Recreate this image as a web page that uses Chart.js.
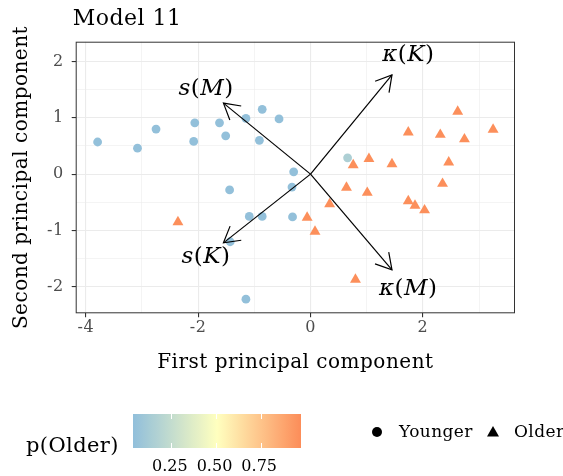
<!DOCTYPE html>
<html>
<head>
<meta charset="utf-8">
<script src="https://cdn.jsdelivr.net/npm/chart.js@4.4.1/dist/chart.umd.min.js"></script>
<style>
  html, body { margin: 0; padding: 0; background: #fff; }
  #wrap { position: relative; width: 563px; height: 476px; font-family: "DejaVu Serif", serif; }
  canvas { position: absolute; left: 0; top: 0; }
  .lg { position: absolute; color: #000; white-space: nowrap; line-height: 1; letter-spacing: 0.4px; }
  #cbar { position: absolute; left: 132.5px; top: 414px; width: 168px; height: 34px; }
  .tk { position: absolute; width: 1px; height: 5px; background: #fff; }
  svg { position: absolute; }
</style>
</head>
<body>
<div id="wrap">
  <canvas id="c" width="563" height="476"></canvas>
  <div class="lg" style="left:26px; top:435px; font-size:21px;">p(Older)</div>
  <div id="cbar"></div>
  <svg style="left:372px; top:427px;" width="10" height="10"><circle cx="5" cy="5" r="5" fill="#000"/></svg>
  <div class="lg" style="left:399px; top:423px; font-size:17px;">Younger</div>
  <svg style="left:487px; top:426px;" width="12" height="11"><polygon points="6,0 12,10.4 0,10.4" fill="#000"/></svg>
  <div class="lg" style="left:514px; top:423px; font-size:17px;">Older</div>
</div>
<script>
// Scores on the first two principal components
const youngerPC1 = [-3.79, -3.08, -2.75, -2.06, -2.08, -1.62, -1.51, -1.15, -0.86, -0.56, -0.91, -0.30, -0.33, -1.44, -1.09, -0.86, -0.32, -1.43, -1.15, 0.66];
const youngerPC2 = [0.57, 0.46, 0.80, 0.91, 0.58, 0.91, 0.68, 0.99, 1.15, 0.98, 0.60, 0.04, -0.23, -0.28, -0.75, -0.75, -0.76, -1.20, -2.22, 0.29];
const youngerP   = [0.04, 0.04, 0.04, 0.04, 0.04, 0.04, 0.04, 0.04, 0.04, 0.04, 0.04, 0.04, 0.04, 0.04, 0.04, 0.04, 0.04, 0.04, 0.04, 0.15];

const olderPC1 = [-2.36, -0.06, 0.08, 2.62, 1.74, 2.31, 2.74, 3.25, 1.04, 0.76, 1.45, 2.46, 2.35, 0.64, 1.01, 0.34, 1.74, 1.86, 2.03, 0.80];
const olderPC2 = [-0.85, -0.77, -1.02, 1.11, 0.74, 0.70, 0.62, 0.79, 0.27, 0.16, 0.18, 0.21, -0.17, -0.24, -0.33, -0.53, -0.48, -0.56, -0.64, -1.87];
const olderP   = [0.96, 0.96, 0.96, 0.96, 0.96, 0.96, 0.96, 0.96, 0.96, 0.96, 0.96, 0.96, 0.96, 0.96, 0.96, 0.96, 0.96, 0.96, 0.96, 0.96];

// Variable loadings (arrows from the origin)
const loadingSymbol = ['κ', 'κ', 's', 's'];
const loadingParam  = ['K', 'M', 'M', 'K'];
const loadingPC1 = [1.45, 1.45, -1.55, -1.55];
const loadingPC2 = [1.76, -1.70, 1.26, -1.22];
const labelScale = 1.2;

// Colour scale for p(Older)
const pLimits = [0.03, 0.97];
const pMid = 0.5;
const lowColor = [145, 191, 219], midColor = [255, 255, 191], highColor = [252, 141, 89];
const colorbarTicks = [0.25, 0.50, 0.75];

function pColor(p) {
  let a, b, t;
  if (p <= pMid) { a = lowColor; b = midColor; t = (p - pLimits[0]) / (pMid - pLimits[0]); }
  else { a = midColor; b = highColor; t = (p - pMid) / (pLimits[1] - pMid); }
  t = Math.max(0, Math.min(1, t));
  const c = a.map((v, i) => Math.round(v + (b[i] - v) * t));
  return `rgb(${c[0]},${c[1]},${c[2]})`;
}

const toPoints = (xs, ys) => xs.map((x, i) => ({ x, y: ys[i] }));

const serif = '"DejaVu Serif", serif';

const panelPlugin = {
  id: 'panel',
  beforeDraw(chart) {
    chart.ctx.letterSpacing = '0.5px';
  },
  afterDatasetsDraw(chart) {
    const { ctx, chartArea: a, scales } = chart;
    const xs = scales.x, ys = scales.y;
    const x0 = xs.getPixelForValue(0), y0 = ys.getPixelForValue(0);
    ctx.save();
    ctx.strokeStyle = '#000';
    ctx.lineWidth = 1.2;
    ctx.lineCap = 'butt';
    for (let i = 0; i < loadingPC1.length; i++) {
      const x1 = xs.getPixelForValue(loadingPC1[i]);
      const y1 = ys.getPixelForValue(loadingPC2[i]);
      ctx.beginPath();
      ctx.moveTo(x0, y0); ctx.lineTo(x1, y1); ctx.stroke();
      const ang = Math.atan2(y1 - y0, x1 - x0);
      const hl = 18, ha = Math.PI / 6;
      ctx.beginPath();
      ctx.moveTo(x1 - hl * Math.cos(ang - ha), y1 - hl * Math.sin(ang - ha));
      ctx.lineTo(x1, y1);
      ctx.lineTo(x1 - hl * Math.cos(ang + ha), y1 - hl * Math.sin(ang + ha));
      ctx.stroke();
      // label: italic symbol and parameter, upright parentheses
      const lx = xs.getPixelForValue(loadingPC1[i] * labelScale);
      const ly = ys.getPixelForValue(loadingPC2[i] * labelScale);
      const parts = [
        [loadingSymbol[i], 'italic'], ['(', 'normal'], [loadingParam[i], 'italic'], [')', 'normal']
      ];
      const fs = 23;
      let total = 0;
      parts.forEach(p => { ctx.font = `${p[1]} ${fs}px ${serif}`; total += ctx.measureText(p[0]).width; });
      let cx = lx - total / 2;
      ctx.fillStyle = '#000';
      ctx.textBaseline = 'middle';
      ctx.textAlign = 'left';
      parts.forEach(p => {
        ctx.font = `${p[1]} ${fs}px ${serif}`;
        ctx.fillText(p[0], cx, ly);
        cx += ctx.measureText(p[0]).width;
      });
    }
    // panel border
    ctx.strokeStyle = '#333333';
    ctx.lineWidth = 1;
    ctx.strokeRect(a.left + 0.5, a.top + 0.5, a.right - a.left - 1, a.bottom - a.top - 1);
    // plot title
    ctx.fillStyle = '#000';
    ctx.font = `22px ${serif}`;
    ctx.textBaseline = 'alphabetic';
    ctx.textAlign = 'left';
    ctx.fillText('Model 11', a.left - 3, 25);
    ctx.restore();
  }
};

const isMajor = (v, step) => Math.abs(v / step - Math.round(v / step)) < 1e-6;

new Chart(document.getElementById('c'), {
  type: 'scatter',
  data: {
    datasets: [
      {
        label: 'Younger',
        data: toPoints(youngerPC1, youngerPC2),
        pointStyle: 'circle',
        pointRadius: 4.4,
        pointHoverRadius: 4.4,
        borderWidth: 0,
        backgroundColor: youngerP.map(pColor)
      },
      {
        label: 'Older',
        data: toPoints(olderPC1, olderPC2),
        pointStyle: 'triangle',
        pointRadius: 6.3,
        pointHoverRadius: 6.3,
        borderWidth: 0,
        backgroundColor: olderP.map(pColor)
      }
    ]
  },
  options: {
    responsive: false,
    animation: false,
    events: [],
    layout: { padding: { left: 0, top: 41.7, right: 48, bottom: 102.7 } },
    plugins: { legend: { display: false }, tooltip: { enabled: false } },
    scales: {
      x: {
        type: 'linear',
        min: -4.18, max: 3.64,
        afterFit(s) { s.height = 60; },
        ticks: {
          stepSize: 1, includeBounds: false, autoSkip: false, maxRotation: 0,
          color: '#4D4D4D', font: { family: serif, size: 16 }, padding: 1,
          callback: v => isMajor(v, 2) ? String(v) : ''
        },
        grid: {
          color: '#EBEBEB',
          lineWidth: c => (c.tick && isMajor(c.tick.value, 2)) ? 1.1 : 0.55,
          tickColor: c => (c.tick && isMajor(c.tick.value, 2)) ? '#333333' : 'rgba(0,0,0,0)',
          tickLength: 4, drawTicks: true
        },
        border: { display: false },
        title: { display: true, text: 'First principal component', color: '#000', font: { family: serif, size: 20 }, padding: { top: 0, bottom: -1 } }
      },
      y: {
        type: 'linear',
        min: -2.47, max: 2.35,
        afterFit(s) { s.width = 75.7; },
        ticks: {
          stepSize: 0.5, includeBounds: false, autoSkip: false,
          color: '#4D4D4D', font: { family: serif, size: 16 }, padding: 8,
          callback: v => isMajor(v, 1) ? String(v) : ''
        },
        grid: {
          color: '#EBEBEB',
          lineWidth: c => (c.tick && isMajor(c.tick.value, 1)) ? 1.1 : 0.55,
          tickColor: c => (c.tick && isMajor(c.tick.value, 1)) ? '#333333' : 'rgba(0,0,0,0)',
          tickLength: 4, drawTicks: true
        },
        border: { display: false },
        title: { display: true, text: 'Second principal component', color: '#000', font: { family: serif, size: 20 }, padding: { top: 10, bottom: 0 } }
      }
    }
  },
  plugins: [panelPlugin]
});

// Colour bar for p(Older)
const bar = document.getElementById('cbar');
const stops = [];
for (let k = 0; k <= 20; k++) {
  const p = pLimits[0] + (pLimits[1] - pLimits[0]) * k / 20;
  stops.push(`${pColor(p)} ${k * 5}%`);
}
bar.style.background = `linear-gradient(to right, ${stops.join(', ')})`;
const barLeft = 132.5, barW = 168;
colorbarTicks.forEach(t => {
  const x = (t - pLimits[0]) / (pLimits[1] - pLimits[0]) * barW;
  ['0px', '29px'].forEach(top => {
    const d = document.createElement('div');
    d.className = 'tk'; d.style.left = (x - 0.5) + 'px'; d.style.top = top;
    bar.appendChild(d);
  });
  const s = document.createElement('div');
  s.className = 'lg';
  s.style.left = (barLeft + x - 2) + 'px';
  s.style.transform = 'translateX(-50%)';
  s.style.top = '458px';
  s.style.fontSize = '16px';
  s.style.letterSpacing = '0px';
  s.textContent = t.toFixed(2);
  document.getElementById('wrap').appendChild(s);
});
</script>
</body>
</html>
